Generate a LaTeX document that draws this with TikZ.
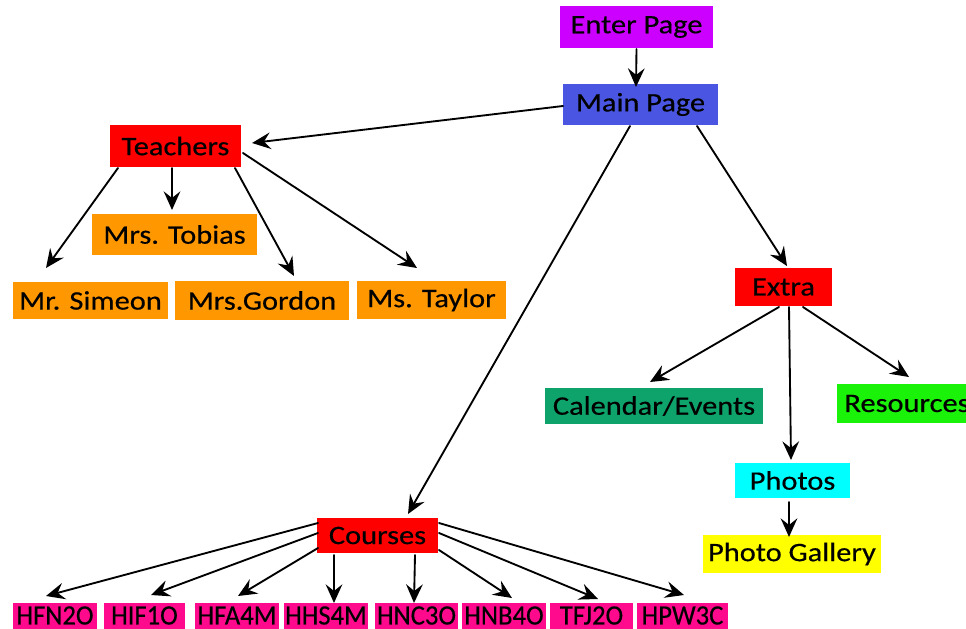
\documentclass[tikz,border=0pt]{standalone}
\usepackage{fontspec}
\setmainfont{Carlito}[FakeBold=0.4]
\usepackage{graphicx}
\usetikzlibrary{arrows.meta,calc}
\definecolor{cPurple}{HTML}{CC00FF}
\definecolor{cBlue}{HTML}{4A56E2}
\definecolor{cRed}{HTML}{FF0000}
\definecolor{cOrange}{HTML}{FF9800}
\definecolor{cTeal}{HTML}{0FA36C}
\definecolor{cGreen}{HTML}{1AF20A}
\definecolor{cCyan}{HTML}{00FFFF}
\definecolor{cYellow}{HTML}{FFFF00}
\definecolor{cPink}{HTML}{FF0A8C}
\newcommand{\wtxt}[1]{\scalebox{1.14}[1]{#1}}
\newcommand{\ntxt}[1]{\scalebox{0.95}[1]{#1}}
\begin{document}
\begin{tikzpicture}[x=0.75pt,y=-0.75pt,
  box/.style={inner sep=0pt, outer sep=0pt, draw=none, text=black, font=\fontsize{20}{24}\selectfont},
  smallbox/.style={box, fill=cPink, font=\fontsize{21}{25}\selectfont},
  wh/.style 2 args={minimum width=#1*0.75pt, minimum height=#2*0.75pt},
  arr/.style={line width=1.4pt, line cap=round, -{Stealth[length=14pt,width=12.5pt,inset=5pt]}}
]
\useasboundingbox (0,0) rectangle (966,628);

% nodes
\node[box, fill=cPurple, wh={153}{42}] (enter) at (636.5,27) {\wtxt{Enter Page}};
\node[box, fill=cBlue, wh={155}{41}] (main) at (640.5,104.5) {\wtxt{Main Page}};
\node[box, fill=cRed, wh={131}{42}] (teachers) at (175.5,146) {\wtxt{Teachers}};
\node[box, fill=cOrange, wh={165}{41}] (tobias) at (174.5,234.5) {\wtxt{Mrs. Tobias}};
\node[box, fill=cOrange, wh={155}{37}] (simeon) at (90.5,300.5) {\wtxt{Mr. Simeon}};
\node[box, fill=cOrange, wh={174}{39}] (gordon) at (262,300.5) {\wtxt{Mrs.Gordon}};
\node[box, fill=cOrange, wh={149}{38}] (taylor) at (431.5,300) {\wtxt{Ms. Taylor}};
\node[box, fill=cRed, wh={97}{38}] (extra) at (783.5,287) {\wtxt{Extra}};
\node[box, fill=cTeal, wh={218}{36}] (calendar) at (654,406) {\wtxt{Calendar/Events}};
\node[box, fill=cGreen, wh={140}{39}] (resources) at (907,403.5) {\wtxt{Resources}};
\node[box, fill=cCyan, wh={115}{35}] (photos) at (792.5,480.5) {\wtxt{Photos}};
\node[box, fill=cYellow, wh={178}{38}] (gallery) at (792,554) {\wtxt{Photo Gallery}};
\node[box, fill=cRed, wh={121}{35}] (courses) at (377.5,535.5) {\wtxt{Courses}};

\node[smallbox, wh={84}{26}] (b1) at (55,615.5) {\ntxt{HFN2O}};
\node[smallbox, wh={81}{26}] (b2) at (144.5,615.5) {\ntxt{HIF1O}};
\node[smallbox, wh={84}{26}] (b3) at (237,615.5) {\ntxt{HFA4M}};
\node[smallbox, wh={84}{26}] (b4) at (326,615.5) {\ntxt{HHS4M}};
\node[smallbox, wh={83}{26}] (b5) at (416.5,615.5) {\ntxt{HNC3O}};
\node[smallbox, wh={84}{26}] (b6) at (504,615.5) {\ntxt{HNB4O}};
\node[smallbox, wh={83}{26}] (b7) at (591.5,615.5) {\ntxt{TFJ2O}};
\node[smallbox, wh={91}{26}] (b8) at (682.5,615.5) {\ntxt{HPW3C}};

% connectors
\draw[arr] ($(enter.south)+(0,1)$) -- ($(main.north)+(-4.5,3)$);
\draw[arr] ($(main.west)+(0,1.5)$) -- ($(teachers.east)+(11,-3)$);
\draw[arr] ($(teachers.south west)+(8,1)$) -- ($(simeon.north west)+(33,-14)$);
\draw[arr] ($(teachers.south)+(-3.5,1)$) -- ($(tobias.north)+(-2.5,-4)$);
\draw[arr] ($(teachers.south east)+(-6,1)$) -- ($(gordon.north)+(32,-5)$);
\draw[arr] ($(teachers.east)+(2,7)$) -- ($(taylor.north)+(-14.5,-13)$);
\draw[arr] ($(main.south)+(-10.5,1)$) -- ($(courses.north)+(30.5,-4)$);
\draw[arr] ($(main.south)+(56.5,1)$) -- ($(extra.north)+(3.5,-2)$);
\draw[arr] ($(extra.south)+(-4.5,1)$) -- ($(calendar.north)+(-4,-6)$);
\draw[arr] ($(extra.south)+(5.5,1)$) -- ($(photos.north)+(-1.5,-3)$);
\draw[arr] ($(extra.south)+(19.5,1)$) -- ($(resources.north)+(2,-7)$);
\draw[arr] ($(photos.south)+(-3.5,4)$) -- ($(gallery.north)+(-3,2)$);

\draw[arr] ($(courses.north west)+(1,5)$) -- ($(b1.north)+(-9,-6.5)$);
\draw[arr] ($(courses.west)+(1,-2.5)$) -- ($(b2.north)+(6.5,-7.5)$);
\draw[arr] ($(courses.south west)+(1,-5)$) -- ($(b3.north)+(1,-6.5)$);
\draw[arr] ($(courses.south west)+(17,2)$) -- ($(b4.north)+(8,0.5)$);
\draw[arr] ($(courses.south east)+(-23,2)$) -- ($(b5.north)+(-2.5,0.5)$);
\draw[arr] ($(courses.south east)+(1,-3)$) -- ($(b6.north)+(8,-4.5)$);
\draw[arr] ($(courses.east)+(1,-2.5)$) -- ($(b7.north)+(6.5,-3.5)$);
\draw[arr] ($(courses.north east)+(1,5)$) -- ($(b8.north)+(1.5,-7.5)$);
\end{tikzpicture}
\end{document}
